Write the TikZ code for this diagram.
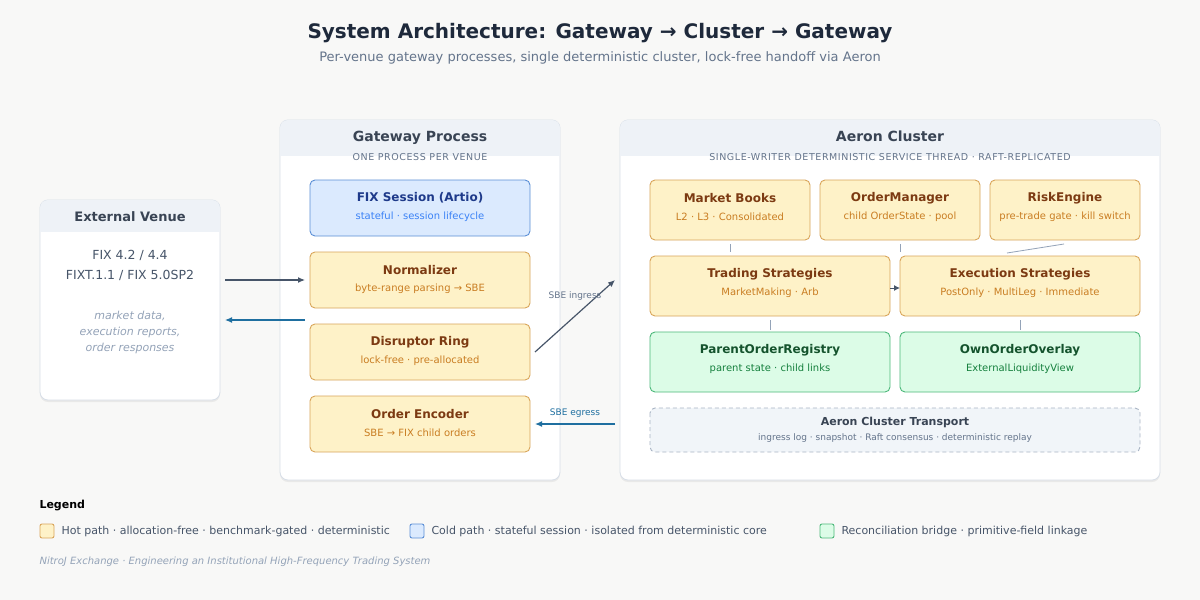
\documentclass[tikz,border=0pt]{standalone}
\usepackage{fontspec}
\setmainfont{DejaVu Sans}
\usetikzlibrary{arrows.meta,shadows}
\definecolor{bg}{HTML}{F8F8F7}
\definecolor{navy}{HTML}{1E293B}
\definecolor{slate}{HTML}{475569}
\definecolor{gry}{HTML}{64748B}
\definecolor{lgry}{HTML}{94A3B8}
\definecolor{cardline}{HTML}{D8DFE8}
\definecolor{hdr}{HTML}{EEF2F7}
\definecolor{hotf}{HTML}{FEF2C8}
\definecolor{hotd}{HTML}{D9A55A}
\definecolor{hott}{HTML}{7C3A12}
\definecolor{hots}{HTML}{C97D22}
\definecolor{coldf}{HTML}{DBEAFE}
\definecolor{coldd}{HTML}{5B8FD6}
\definecolor{coldt}{HTML}{1E3A8A}
\definecolor{colds}{HTML}{3B82F6}
\definecolor{grf}{HTML}{DCFCE7}
\definecolor{grd}{HTML}{4CB87A}
\definecolor{grt}{HTML}{14532D}
\definecolor{grs}{HTML}{15803D}
\definecolor{blue2}{HTML}{1F6FA0}
\definecolor{trf}{HTML}{F1F5F9}
\definecolor{trd}{HTML}{A8B4C4}
\tikzset{
  card/.style={draw=cardline,fill=white,rounded corners=8pt,line width=0.8pt,drop shadow={opacity=0.12,shadow xshift=0pt,shadow yshift=-2pt}},
  box/.style={rounded corners=5pt,line width=0.9pt},
  hot/.style={box,fill=hotf,draw=hotd},
  cold/.style={box,fill=coldf,draw=coldd},
  rec/.style={box,fill=grf,draw=grd},
  ttl/.style={font=\bfseries\fontsize{12}{14}\selectfont},
  sub/.style={font=\fontsize{10}{12}\selectfont},
  capt/.style={font=\fontsize{9.5}{11}\selectfont\addfontfeature{LetterSpace=6},text=gry},
  link/.style={draw=lgry,line width=0.8pt},
  fl/.style={-{Latex[length=7pt,width=6pt]},line width=1.2pt},
}
\begin{document}
\begin{tikzpicture}[x=1pt,y=-1pt]
\fill[bg] (0,0) rectangle (1200,600);
\useasboundingbox (0,0) rectangle (1200,600);
\node[font=\bfseries\fontsize{20}{24}\selectfont,text=navy] (title) at (600,33) {System Architecture: Gateway → Cluster → Gateway};
\node[font=\fontsize{13}{15}\selectfont,text=gry] (subt) at (600,58) {Per-venue gateway processes, single deterministic cluster, lock-free handoff via Aeron};

% External venue
\path[card] (40,200) rectangle (220,400);
\begin{scope}\clip[rounded corners=8pt] (40,200) rectangle (220,400);
\fill[hdr] (40,200) rectangle (220,232);\end{scope}
\node[font=\bfseries\fontsize{13}{15}\selectfont,text=slate!80!black] (ev) at (130,217) {External Venue};
\node[font=\fontsize{12.5}{15}\selectfont,text=slate] (ev1) at (130,255) {FIX 4.2 / 4.4};
\node[font=\fontsize{12.5}{15}\selectfont,text=slate] (ev2) at (130,275) {FIXT.1.1 / FIX 5.0SP2};
\node[font=\itshape\fontsize{11}{16}\selectfont,text=lgry,align=center] (ev3) at (130,332) {market data,\\execution reports,\\order responses};

% Gateway
\path[card] (280,120) rectangle (560,480);
\begin{scope}\clip[rounded corners=8pt] (280,120) rectangle (560,480);
\fill[hdr] (280,120) rectangle (560,156);\end{scope}
\node[font=\bfseries\fontsize{14}{16}\selectfont,text=slate!80!black] (gp) at (420,138) {\strut Gateway Process};
\node[capt] (gps) at (420,157) {ONE PROCESS PER VENUE};

\path[cold] (310,180) rectangle (530,236);
\node[ttl,text=coldt] (fix) at (420,198) {FIX Session (Artio)};
\node[sub,text=colds] (fixs) at (420,217) {stateful · session lifecycle};
\path[hot] (310,252) rectangle (530,308);
\node[ttl,text=hott] (norm) at (420,270) {Normalizer};
\node[sub,text=hots] (norms) at (420,289) {byte-range parsing → SBE};
\path[hot] (310,324) rectangle (530,380);
\node[ttl,text=hott] (dis) at (420,342) {Disruptor Ring};
\node[sub,text=hots] (diss) at (420,361) {lock-free · pre-allocated};
\path[hot] (310,396) rectangle (530,452);
\node[ttl,text=hott] (enc) at (420,414) {Order Encoder};
\node[sub,text=hots] (encs) at (420,433) {SBE → FIX child orders};

\coordinate (a1) at (225,280); \coordinate (a2) at (305,280);
\draw[fl,draw=slate] (a1) -- (a2);
\coordinate (b1) at (305,320); \coordinate (b2) at (225,320);
\draw[fl,draw=blue2] (b1) -- (b2);
\coordinate (c1) at (535,352); \coordinate (c2) at (615,280);
\draw[fl,draw=slate] (c1) -- (c2);
\node[font=\fontsize{9}{10}\selectfont,text=gry] (ing) at (575,296) {SBE ingress};
\coordinate (d1) at (615,424); \coordinate (d2) at (535,424);
\draw[fl,draw=blue2] (d1) -- (d2);
\node[font=\fontsize{9}{10}\selectfont,text=blue2] (egr) at (575,413) {SBE egress};

% Cluster
\path[card] (620,120) rectangle (1160,480);
\begin{scope}\clip[rounded corners=8pt] (620,120) rectangle (1160,480);
\fill[hdr] (620,120) rectangle (1160,156);\end{scope}
\node[font=\bfseries\fontsize{14}{16}\selectfont,text=slate!80!black] (ac) at (890,138) {\strut Aeron Cluster};
\node[capt] (acs) at (890,157) {SINGLE-WRITER DETERMINISTIC SERVICE THREAD · RAFT-REPLICATED};

\path[hot] (650,180) rectangle (810,240);
\node[ttl,text=hott] (mb) at (730,198) {Market Books};
\node[sub,text=hots] (mbs) at (730,217) {L2 · L3 · Consolidated};
\path[hot] (820,180) rectangle (980,240);
\node[ttl,text=hott] (om) at (900,198) {OrderManager};
\node[sub,text=hots] (oms) at (900,217) {child OrderState · pool};
\path[hot] (990,180) rectangle (1140,240);
\node[ttl,text=hott] (re) at (1065,198) {RiskEngine};
\node[sub,text=hots] (res) at (1065,217) {pre-trade gate · kill switch};

\path[hot] (650,256) rectangle (890,316);
\node[ttl,text=hott] (ts) at (770,274) {Trading Strategies};
\node[sub,text=hots] (tss) at (770,293) {MarketMaking · Arb};
\path[hot] (900,256) rectangle (1140,316);
\node[ttl,text=hott] (es) at (1020,274) {Execution Strategies};
\node[sub,text=hots] (ess) at (1020,293) {PostOnly · MultiLeg · Immediate};

\path[rec] (650,332) rectangle (890,392);
\node[ttl,text=grt] (por) at (770,350) {ParentOrderRegistry};
\node[sub,text=grs] (pors) at (770,369) {parent state · child links};
\path[rec] (900,332) rectangle (1140,392);
\node[ttl,text=grt] (oo) at (1020,350) {OwnOrderOverlay};
\node[sub,text=grs] (oos) at (1020,369) {ExternalLiquidityView};

\path[box,fill=trf,draw=trd,dashed,dash pattern=on 4pt off 3pt] (650,408) rectangle (1140,452);
\node[font=\bfseries\fontsize{11}{13}\selectfont,text=slate!80!black] (tr) at (895,422) {Aeron Cluster Transport};
\node[font=\fontsize{9}{10}\selectfont,text=gry] (trs) at (895,438) {ingress log · snapshot · Raft consensus · deterministic replay};

\coordinate (l1a) at (730,244); \coordinate (l1b) at (730,252);
\coordinate (l2a) at (900,244); \coordinate (l2b) at (900,252);
\coordinate (l3a) at (1064,244); \coordinate (l3b) at (1007,253);
\coordinate (l4a) at (770,320); \coordinate (l4b) at (770,330);
\coordinate (l5a) at (1020,320); \coordinate (l5b) at (1020,330);
\draw[link] (l1a)--(l1b); \draw[link] (l2a)--(l2b); \draw[link] (l3a)--(l3b);
\draw[link] (l4a)--(l4b); \draw[link] (l5a)--(l5b);
\coordinate (t1) at (890,288); \coordinate (t2) at (900,288);
\draw[-{Latex[length=6pt,width=6pt]},draw=slate,line width=1pt] (t1)--(t2);

% Legend
\node[anchor=west,font=\bfseries\fontsize{11}{13}\selectfont,text=black] (lg) at (36,506) {Legend};
\path[hot,rounded corners=2pt] (40,524) rectangle (54,538);
\node[anchor=west,font=\fontsize{11}{13}\selectfont,text=slate] (lg1) at (58,531) {Hot path · allocation-free · benchmark-gated · deterministic};
\path[cold,rounded corners=2pt] (410,524) rectangle (424,538);
\node[anchor=west,font=\fontsize{11}{13}\selectfont,text=slate] (lg2) at (428,531) {Cold path · stateful session · isolated from deterministic core};
\path[rec,rounded corners=2pt] (820,524) rectangle (834,538);
\node[anchor=west,font=\fontsize{11}{13}\selectfont,text=slate] (lg3) at (838,531) {Reconciliation bridge · primitive-field linkage};
\node[anchor=west,font=\itshape\fontsize{10}{12}\selectfont,text=lgry] (ft) at (36,562) {NitroJ Exchange · Engineering an Institutional High-Frequency Trading System};
\end{tikzpicture}
\end{document}
